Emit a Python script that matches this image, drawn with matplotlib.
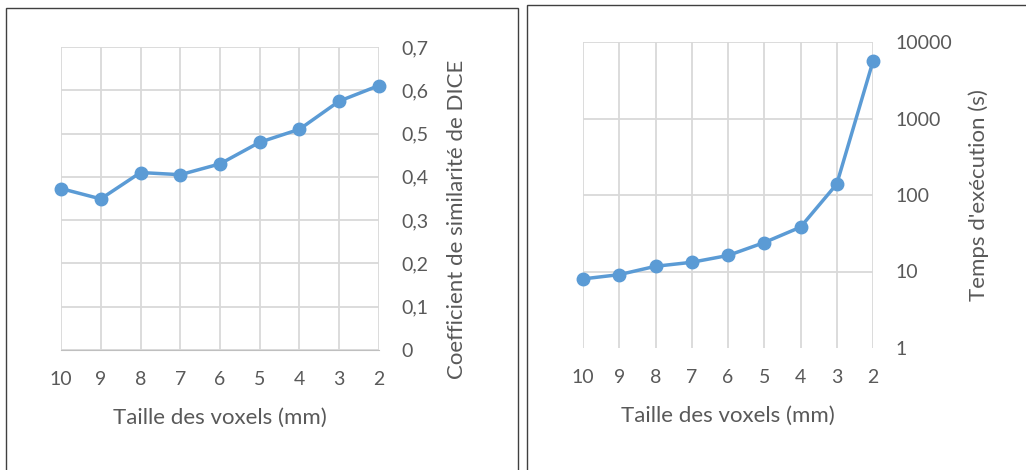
import matplotlib
matplotlib.use("Agg")
import matplotlib.pyplot as plt
from matplotlib.patches import Rectangle
from matplotlib.ticker import FixedLocator, FuncFormatter

plt.rcParams['font.family'] = ['Lato', 'DejaVu Sans']

voxels = ['10', '9', '8', '7', '6', '5', '4', '3', '2']
dice = [0.373, 0.349, 0.41, 0.405, 0.43, 0.48, 0.51, 0.575, 0.611]
temps = [8.0, 9.1, 11.7, 13.2, 16.2, 23.9, 38, 139, 5600]

blue = '#5B9BD5'
grey_txt = '#595959'
grid_col = '#D9D9D9'

fig = plt.figure(figsize=(10.26, 4.70), dpi=100)

# panel frames
fig.patches.append(Rectangle((6 / 1026, -0.01), (518 - 6) / 1026, (470 - 8) / 470 + 0.01,
                             transform=fig.transFigure, fill=False, ec='#404040', lw=1.0))
fig.patches.append(Rectangle((527 / 1026, -0.01), 1.0, (470 - 5) / 470 + 0.01,
                             transform=fig.transFigure, fill=False, ec='#404040', lw=1.0))


def style(ax):
    for s in ax.spines.values():
        s.set_visible(False)
    ax.tick_params(length=0, colors=grey_txt, labelsize=14)
    ax.tick_params(axis='x', pad=15)
    ax.tick_params(axis='y', pad=16)
    ax.yaxis.tick_right()
    ax.yaxis.set_label_position('right')
    ax.grid(True, color=grid_col, lw=1.3)
    ax.set_axisbelow(True)


x = range(len(voxels))

# left: DICE
ax1 = fig.add_axes([61 / 1026, 120 / 470, 318 / 1026, 303 / 470])
style(ax1)
ax1.plot(x, dice, color=blue, lw=2.5, marker='o', ms=9, clip_on=False, zorder=3)
ax1.set_xlim(0, len(voxels) - 1)
ax1.set_ylim(0, 0.7)
ax1.set_xticks(list(x))
ax1.set_xticklabels(voxels)
ax1.set_yticks([i / 10 for i in range(8)])
ax1.yaxis.set_major_formatter(FuncFormatter(lambda v, p: '0' if v == 0 else f'{v:.1f}'.replace('.', ',')))
ax1.spines['bottom'].set_visible(True)
ax1.spines['bottom'].set_color('#BFBFBF')
ax1.set_xlabel('Taille des voxels (mm)', color=grey_txt, fontsize=16)
ax1.set_ylabel('Coefficient de similarité de DICE', color=grey_txt, fontsize=16)
ax1.xaxis.set_label_coords(0.5, -0.19)
ax1.yaxis.set_label_coords(1.215, 0.43)

# right: temps
ax2 = fig.add_axes([583 / 1026, 122 / 470, 290 / 1026, 306 / 470])
style(ax2)
ax2.plot(x, temps, color=blue, lw=2.5, marker='o', ms=9, clip_on=False, zorder=3)
ax2.set_yscale('log')
ax2.set_xlim(0, len(voxels) - 1)
ax2.set_ylim(1, 10000)
ax2.set_xticks(list(x))
ax2.set_xticklabels(voxels)
ax2.yaxis.set_major_locator(FixedLocator([1, 10, 100, 1000, 10000]))
ax2.yaxis.set_minor_locator(FixedLocator([]))
ax2.yaxis.set_major_formatter(FuncFormatter(lambda v, p: f'{v:.0f}'))
ax2.get_ygridlines()[0].set_visible(False)
ax2.set_xlabel('Taille des voxels (mm)', color=grey_txt, fontsize=16)
ax2.set_ylabel("Temps d'exécution (s)", color=grey_txt, fontsize=16)
ax2.xaxis.set_label_coords(0.5, -0.19)
ax2.yaxis.set_label_coords(1.33, 0.5)

fig.savefig('out.png', dpi=100)
